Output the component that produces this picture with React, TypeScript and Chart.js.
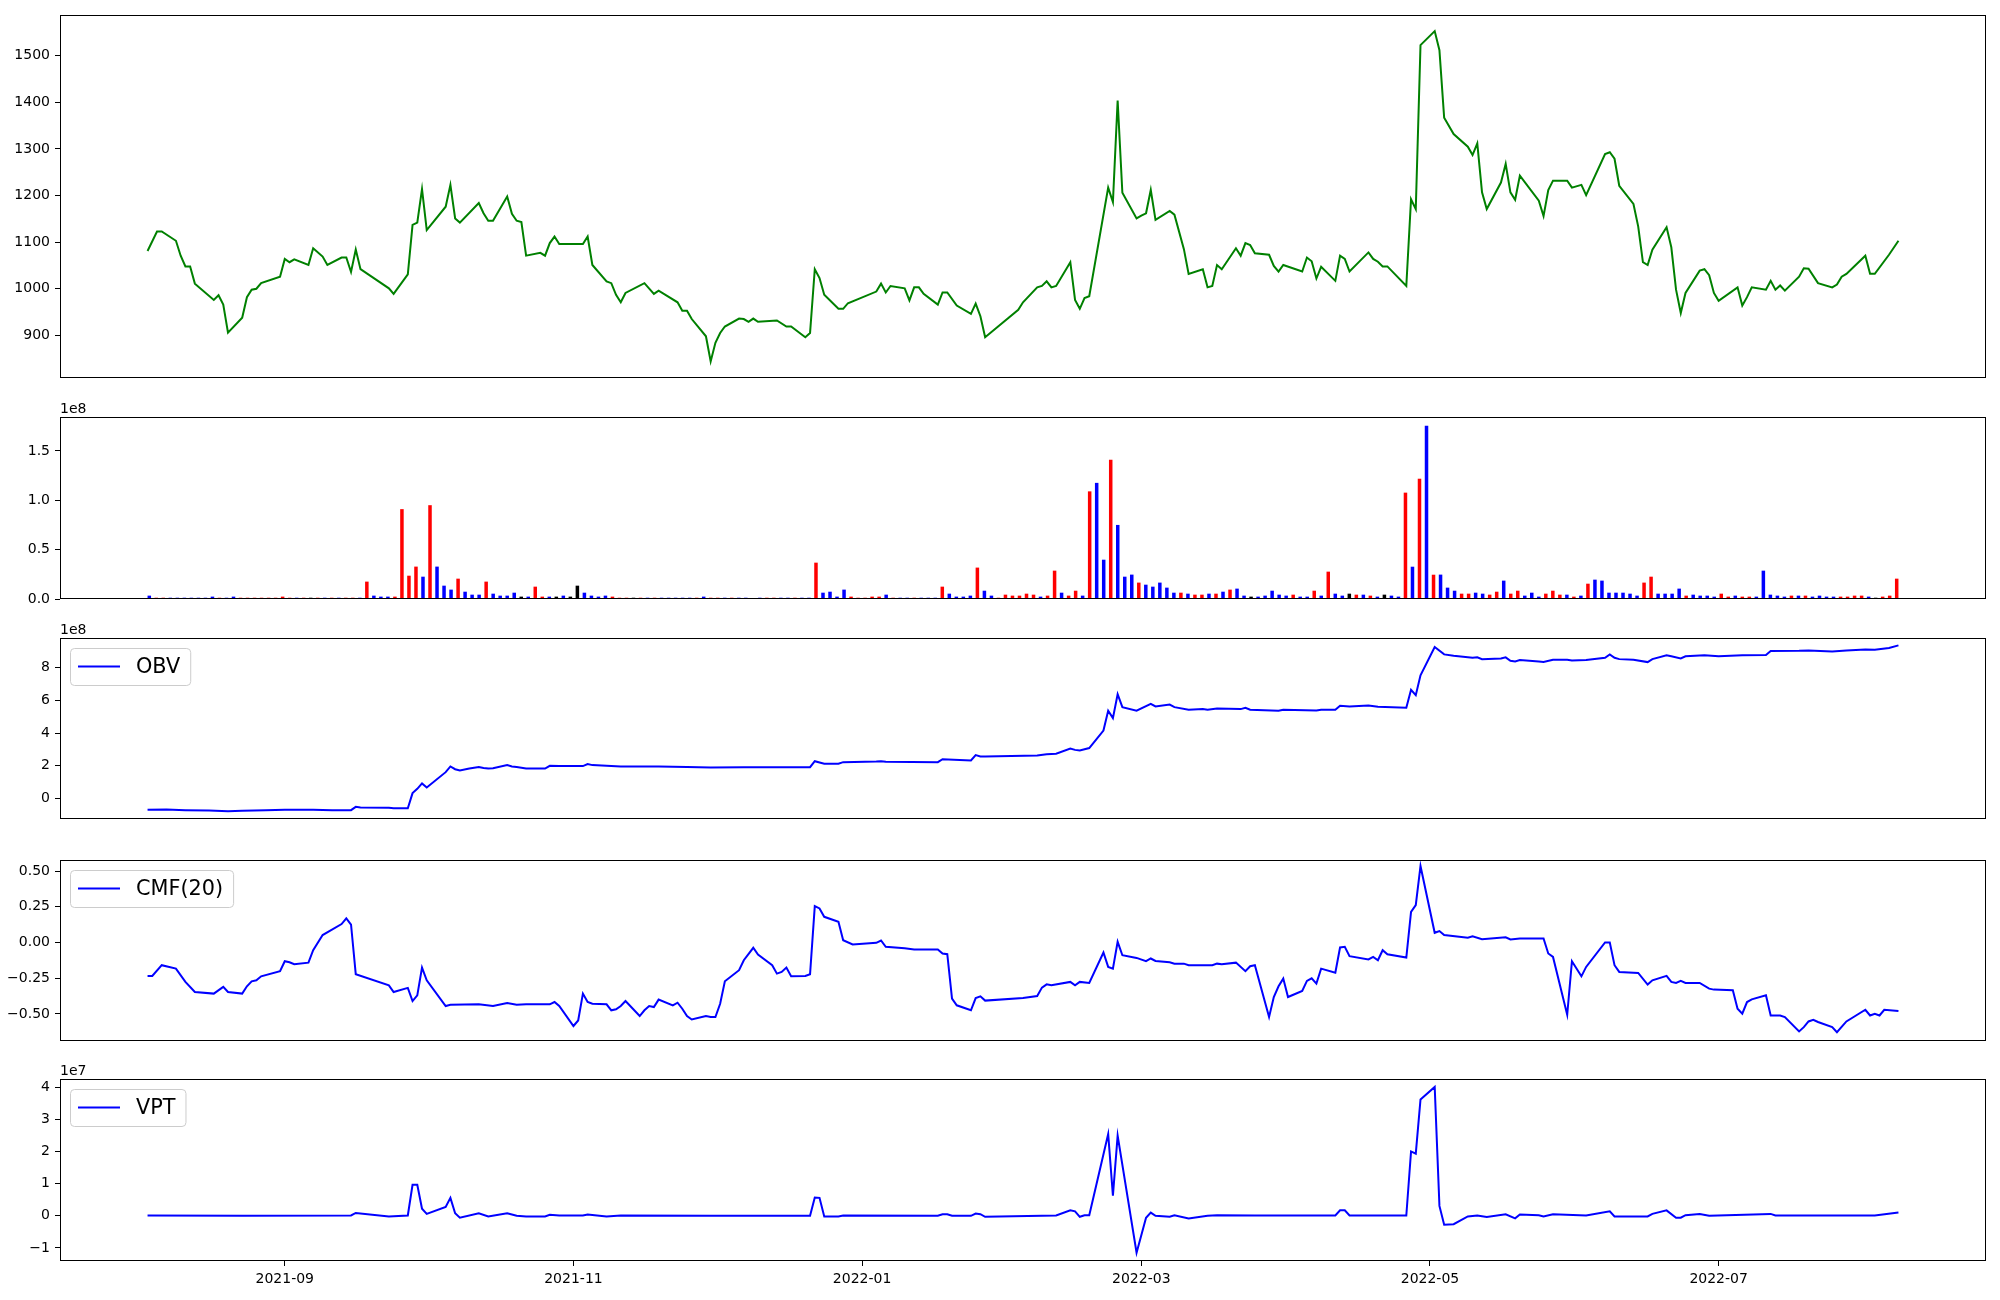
import React, { useEffect, useRef } from "react";
import { Chart, registerables } from "chart.js";
Chart.register(...registerables);

const FONT = "'DejaVu Sans', sans-serif";
const START = Date.UTC(2021, 7, 3); // first trading day 2021-08-03
const dayOf = (s: string) => {
  const [y, m, d] = s.split("-").map(Number);
  return Math.round((Date.UTC(y, m - 1, d || 1) - START) / 86400000);
};

// x tick labels (dates)
const xTickLabels = ["2021-09", "2021-11", "2022-01", "2022-03", "2022-05", "2022-07"];

// [days since 2021-08-03, close]
const price: [number, number][] = [
  [0, 1081], [2, 1123], [3, 1123], [6, 1103], [7, 1071], [8, 1048], [9, 1048], [10, 1011], [14, 976], [15, 986],
  [16, 966], [17, 906], [20, 938], [21, 982], [22, 998], [23, 1000], [24, 1012], [28, 1026], [29, 1064], [30, 1057],
  [31, 1063], [34, 1051], [35, 1087], [37, 1069], [38, 1051], [41, 1067], [42, 1067], [43, 1036], [44, 1084], [45, 1042],
  [51, 1001], [52, 989], [55, 1031], [56, 1137], [57, 1142], [58, 1214], [59, 1126], [63, 1176], [64, 1223], [65, 1151],
  [66, 1142], [70, 1184], [71, 1162], [72, 1146], [73, 1146], [76, 1198], [77, 1161], [78, 1146], [79, 1143], [80, 1071],
  [83, 1077], [84, 1071], [85, 1098], [86, 1112], [87, 1096], [92, 1096], [93, 1112], [94, 1051], [97, 1016], [98, 1012],
  [99, 987], [100, 971], [101, 991], [105, 1012], [107, 989], [108, 996], [112, 971], [113, 953], [114, 953], [115, 935],
  [118, 898], [119, 844], [120, 884], [121, 905], [122, 919], [125, 936], [126, 935], [127, 929], [128, 936], [129, 929],
  [133, 932], [135, 919], [136, 919], [139, 896], [140, 905], [141, 1042], [142, 1023], [143, 987], [146, 957], [147, 957],
  [148, 969], [154, 994], [155, 1011], [156, 992], [157, 1006], [160, 1001], [161, 975], [162, 1003], [163, 1003], [164, 989],
  [167, 966], [168, 992], [169, 992], [171, 964], [174, 946], [175, 968], [176, 941], [177, 896],
  [184, 955], [185, 971], [188, 1003], [189, 1006], [190, 1016], [191, 1003], [192, 1006], [195, 1057], [196, 976], [197, 957],
  [198, 980], [199, 984], [203, 1217], [204, 1186], [205, 1404], [206, 1206], [209, 1151], [210, 1157], [211, 1162], [212, 1212],
  [213, 1148], [216, 1167], [217, 1159], [219, 1085], [220, 1032], [223, 1042], [224, 1003], [225, 1006], [226, 1051], [227, 1042],
  [230, 1087], [231, 1071], [232, 1098], [233, 1094], [234, 1076], [237, 1073], [238, 1049], [239, 1037], [240, 1051], [244, 1037],
  [245, 1067], [246, 1059], [247, 1022], [248, 1047], [251, 1017], [252, 1071], [253, 1064], [254, 1037], [258, 1078], [259, 1064],
  [260, 1058], [261, 1048], [262, 1048], [266, 1006], [267, 1192], [268, 1171], [269, 1523], [272, 1553], [273, 1512], [274, 1367],
  [276, 1332], [279, 1305], [280, 1287], [281, 1312], [282, 1207], [283, 1171], [286, 1228], [287, 1268], [288, 1207], [289, 1191],
  [290, 1243], [294, 1189], [295, 1156], [296, 1212], [297, 1232], [300, 1232], [301, 1217], [303, 1223], [304, 1201], [308, 1289],
  [309, 1293], [310, 1279], [311, 1221], [314, 1182], [315, 1134], [316, 1057], [317, 1051], [318, 1084], [321, 1132], [322, 1089],
  [323, 998], [324, 948], [325, 991], [328, 1039], [329, 1042], [330, 1029], [331, 991], [332, 974], [336, 1003], [337, 964],
  [338, 982], [339, 1003], [342, 998], [343, 1017], [344, 998], [345, 1007], [346, 996], [349, 1026], [350, 1044], [351, 1043],
  [353, 1012], [356, 1003], [357, 1009], [358, 1026], [359, 1032], [363, 1071], [364, 1032], [365, 1032], [368, 1073], [370, 1103],
];

// volume per trading day (millions of shares), index order
const volumeM: number[] = [
  3.4, 1.3, 1.3, 1.3, 1.3, 1.3, 1.3, 1.3, 1.3, 2.4,
  1.3, 1.3, 2.4, 1.3, 1.3, 1.3, 1.3, 1.3, 1.3, 2.4,
  1.3, 1.3, 1.3, 1.3, 1.3, 1.3, 1.3, 1.3, 1.3, 1.3,
  1.3, 17.6, 3.4, 2.4, 2.4, 2.4, 91, 23.6, 32.8, 22.6,
  95, 32.8, 13.5, 9.5, 20.6, 7.4, 4.4, 4.4, 17.6, 5.4,
  3.4, 3.4, 6.4, 2.4, 2.4, 12.5, 2.4, 2.4, 2.4, 3.4,
  2.4, 13.5, 6.4, 3.4, 2.4, 3.4, 2.4, 1.3, 1.3, 1.3,
  1.3, 1.3, 1.3, 1.3, 1.3, 1.3, 1.3, 1.3, 1.3, 2.4,
  1.3, 1.3, 1.3, 1.3, 1.3, 1.3, 0, 1.3, 1.3, 1.3,
  1.3, 1.3, 1.3, 1.3, 1.3, 36.8, 6.4, 7.4, 2.4, 9.5,
  2.4, 1.3, 1.3, 2.4, 2.4, 4.4, 1.3, 1.3, 1.3, 1.3,
  1.3, 1.3, 1.3, 12.5, 5.4, 2.4, 2.4, 3.4, 31.8, 8.4,
  3.4, 1.3, 4.4, 3.4, 3.4, 5.4, 4.4, 2.4, 3.4, 28.7,
  6.4, 3.4, 8.4, 3.4, 109, 117.6, 39.8, 141, 75, 22.6,
  24.7, 16.6, 14.5, 12.5, 16.6, 11.5, 6.4, 6.4, 5.4, 4.4,
  4.4, 5.4, 5.4, 7.4, 9.5, 10.5, 3.4, 2.4, 2.4, 3.4,
  8.4, 4.4, 3.4, 4.4, 2.4, 2.4, 8.4, 3.4, 27.7, 5.4,
  3.4, 5.4, 4.4, 4.4, 3.4, 2.4, 4.4, 3.4, 2.4, 107.7,
  32.7, 121.8, 175.5, 24.6, 24.7, 11.5, 8.4, 5.4, 5.4, 6.4,
  5.4, 4.4, 7.4, 18.6, 5.4, 8.4, 3.4, 6.4, 2.4, 5.4,
  8.4, 4.4, 4.4, 2.4, 3.4, 15.5, 19.6, 18.6, 6.4, 6.4,
  6.4, 5.4, 3.4, 16.6, 22.6, 5.4, 5.4, 5.4, 10.5, 3.4,
  4.4, 3.4, 3.4, 2.4, 5.4, 2.4, 3.4, 2.4, 2.4, 2.4,
  28.7, 4.4, 3.4, 2.4, 3.4, 3.4, 3.4, 2.4, 3.4, 2.4,
  2.4, 2.4, 2.4, 3.4, 3.4, 2.4, 1.3, 2.4, 3.4, 20.6,
];
// bar colour per trading day: R up, B down, K unchanged
const volumeDir =
  "BRRBBBBBBB" + "RBBRRRRRRR" + "RBRKRBRBRR" + "BRBBBRRRRB" + "RBBBRBBBRB" +
  "BBBKBRRBKB" + "KKBBBBRRRK" + "RBRBBBBBRB" + "RRBRBBKBRR" + "BBRBBRBBBB" +
  "RRRRRBRBBR" + "BBBRBBBBRB" + "BRRRRRRBRR" + "BRRBRBBRBB" + "BRBBBBBRBR" +
  "RBRBRBBKBB" + "BBBRBBRBRB" + "BKRBRBKBBR" + "BRBRBBBRRB" + "BRRBRRBBBR" +
  "RRBRBRBBBB" + "BBBRRBBBBR" + "BBBBRRBRRB" + "BBBBRBRBBB" + "BRRRRBKRRR";

// OBV (1e8)
const obv: [number, number][] = [
  [0, -0.69], [4, -0.67], [8, -0.71], [13, -0.73], [17, -0.77], [20, -0.75], [25, -0.71], [29, -0.69], [35, -0.69], [39, -0.71],
  [43, -0.71], [44, -0.51], [45, -0.55], [51, -0.57], [52, -0.59], [55, -0.59], [56, 0.33], [57, 0.59], [58, 0.92], [59, 0.67],
  [63, 1.61], [64, 1.96], [65, 1.79], [66, 1.71], [68, 1.83], [70, 1.93], [71, 1.87], [72, 1.83], [73, 1.85], [76, 2.04],
  [77, 1.96], [78, 1.93], [80, 1.83], [84, 1.83], [85, 2.0], [87, 1.98], [92, 1.98], [93, 2.1], [94, 2.04], [100, 1.96],
  [108, 1.96], [114, 1.93], [119, 1.89], [126, 1.91], [140, 1.91], [141, 2.28], [143, 2.12], [146, 2.12], [147, 2.22], [154, 2.26],
  [155, 2.28], [156, 2.24], [167, 2.22], [168, 2.4], [174, 2.32], [175, 2.65], [176, 2.57], [177, 2.57],
  [188, 2.63], [190, 2.71], [192, 2.73], [195, 3.05], [196, 2.97], [197, 2.93], [199, 3.08], [202, 4.15], [203, 5.36], [204, 4.91],
  [205, 6.37], [206, 5.58], [209, 5.36], [212, 5.78], [213, 5.62], [216, 5.74], [217, 5.58], [220, 5.42], [223, 5.46], [224, 5.42],
  [226, 5.5], [231, 5.46], [232, 5.54], [233, 5.42], [239, 5.36], [240, 5.42], [247, 5.38], [248, 5.42], [251, 5.42], [252, 5.66],
  [254, 5.62], [258, 5.68], [260, 5.6], [266, 5.54], [267, 6.64], [268, 6.31], [269, 7.52], [272, 9.25], [274, 8.8], [276, 8.72],
  [280, 8.59], [281, 8.62], [282, 8.51], [286, 8.55], [287, 8.62], [288, 8.41], [289, 8.37], [290, 8.45], [294, 8.37], [295, 8.33],
  [297, 8.47], [300, 8.47], [301, 8.43], [304, 8.45], [308, 8.59], [309, 8.8], [310, 8.59], [311, 8.51], [314, 8.47], [317, 8.33],
  [318, 8.51], [321, 8.74], [322, 8.68], [324, 8.55], [325, 8.68], [329, 8.74], [332, 8.68], [337, 8.74], [342, 8.76], [343, 9.0],
  [349, 9.02], [351, 9.04], [356, 8.98], [359, 9.04], [363, 9.1], [365, 9.08], [368, 9.19], [370, 9.35],
];

// CMF(20)
const cmf: [number, number][] = [
  [0, -0.234], [1, -0.234], [3, -0.159], [6, -0.183], [8, -0.276], [10, -0.347], [14, -0.358], [16, -0.311], [17, -0.347], [20, -0.358],
  [21, -0.307], [22, -0.272], [23, -0.265], [24, -0.237], [28, -0.201], [29, -0.131], [30, -0.138], [31, -0.152], [34, -0.141], [35, -0.054],
  [37, 0.052], [41, 0.129], [42, 0.169], [43, 0.126], [44, -0.222], [51, -0.3], [52, -0.347], [55, -0.318], [56, -0.41], [57, -0.37],
  [58, -0.176], [59, -0.265], [63, -0.445], [64, -0.436], [70, -0.433], [73, -0.445], [76, -0.424], [78, -0.436], [80, -0.433], [84, -0.433],
  [85, -0.433], [86, -0.417], [87, -0.445], [90, -0.585], [91, -0.546], [92, -0.358], [93, -0.417], [94, -0.429], [97, -0.433], [98, -0.475],
  [99, -0.468], [100, -0.445], [101, -0.41], [104, -0.515], [105, -0.475], [106, -0.445], [107, -0.452], [108, -0.4], [111, -0.44], [112, -0.422],
  [113, -0.464], [114, -0.515], [115, -0.539], [118, -0.515], [119, -0.522], [120, -0.522], [121, -0.429], [122, -0.272], [125, -0.194], [126, -0.124],
  [128, -0.037], [129, -0.084], [132, -0.159], [133, -0.218], [134, -0.206], [135, -0.176], [136, -0.237], [139, -0.234], [140, -0.222], [141, 0.255],
  [142, 0.239], [143, 0.18], [146, 0.145], [147, 0.016], [149, -0.014], [154, -0.002], [155, 0.014], [156, -0.03], [160, -0.04], [162, -0.049],
  [167, -0.049], [168, -0.077], [169, -0.082], [170, -0.393], [171, -0.44], [174, -0.475], [175, -0.389], [176, -0.377], [177, -0.407],
  [185, -0.389], [188, -0.375], [189, -0.316], [190, -0.293], [191, -0.3], [195, -0.276], [196, -0.3], [197, -0.276], [199, -0.283], [202, -0.07],
  [203, -0.171], [204, -0.183], [205, 0.005], [206, -0.089], [209, -0.108], [211, -0.131], [212, -0.112], [213, -0.129], [216, -0.138], [217, -0.148],
  [219, -0.148], [220, -0.159], [223, -0.159], [225, -0.159], [226, -0.148], [227, -0.152], [230, -0.141], [232, -0.201], [233, -0.166], [234, -0.159],
  [237, -0.522], [238, -0.382], [239, -0.307], [240, -0.253], [241, -0.382], [244, -0.34], [245, -0.269], [246, -0.251], [247, -0.288], [248, -0.183],
  [251, -0.211], [252, -0.035], [253, -0.03], [254, -0.096], [258, -0.119], [259, -0.101], [260, -0.124], [261, -0.054], [262, -0.082], [266, -0.105],
  [267, 0.215], [268, 0.262], [269, 0.536], [272, 0.068], [273, 0.08], [274, 0.052], [279, 0.033], [280, 0.044], [282, 0.023], [287, 0.037],
  [288, 0.021], [290, 0.028], [295, 0.028], [296, -0.077], [297, -0.101], [300, -0.506], [301, -0.131], [303, -0.237], [304, -0.171], [308, 0.0],
  [309, 0.0], [310, -0.159], [311, -0.206], [315, -0.213], [317, -0.295], [318, -0.265], [321, -0.234], [322, -0.276], [323, -0.283], [324, -0.269],
  [325, -0.283], [328, -0.283], [330, -0.323], [331, -0.33], [335, -0.335], [336, -0.464], [337, -0.499], [338, -0.417], [339, -0.398], [342, -0.37],
  [343, -0.511], [345, -0.511], [346, -0.522], [349, -0.623], [350, -0.593], [351, -0.553], [352, -0.541], [353, -0.557], [356, -0.593], [357, -0.628],
  [359, -0.553], [363, -0.471], [364, -0.511], [365, -0.499], [366, -0.511], [367, -0.471], [370, -0.48],
];

// VPT (1e7)
const vpt: [number, number][] = [
  [0, 0.01], [20, 0], [43, 0.01], [44, 0.09], [51, -0.02], [55, 0.01], [56, 0.97], [57, 0.97], [58, 0.22], [59, 0.06],
  [63, 0.28], [64, 0.56], [65, 0.08], [66, -0.06], [70, 0.08], [72, -0.02], [76, 0.08], [78, 0], [80, -0.02], [84, -0.02],
  [85, 0.03], [87, 0.01], [92, 0.01], [93, 0.04], [97, -0.02], [100, 0.01], [119, 0], [140, 0], [141, 0.57], [142, 0.56],
  [143, -0.02], [146, -0.02], [147, 0.01], [167, 0], [168, 0.05], [169, 0.05], [170, 0], [174, 0], [175, 0.07], [176, 0.05],
  [177, -0.03], [192, 0.01], [195, 0.17], [196, 0.14], [197, -0.03], [198, 0.02], [199, 0.02], [203, 2.55], [204, 0.63], [205, 2.5],
  [209, -1.15], [211, -0.06], [212, 0.1], [213, 0], [216, -0.03], [217, 0.02], [220, -0.08], [224, 0], [226, 0.02], [234, 0.01],
  [251, 0.01], [252, 0.17], [253, 0.17], [254, 0.01], [266, 0.01], [267, 2.01], [268, 1.94], [269, 3.63], [272, 4.02], [273, 0.31],
  [274, -0.28], [276, -0.26], [279, -0.02], [281, 0.01], [283, -0.04], [287, 0.05], [289, -0.08], [290, 0.04], [294, 0.02], [295, -0.02],
  [297, 0.05], [304, 0.01], [309, 0.14], [310, -0.02], [317, -0.02], [318, 0.06], [321, 0.17], [323, -0.06], [324, -0.06], [325, 0.02],
  [328, 0.06], [330, 0], [343, 0.06], [344, 0.01], [356, 0.01], [365, 0.01], [370, 0.1],
];

const priceTicks = [900, 1000, 1100, 1200, 1300, 1400, 1500];
const volTicks = [0, 0.5, 1.0, 1.5];
const obvTicks = [0, 2, 4, 6, 8];
const cmfTicks = [-0.5, -0.25, 0, 0.25, 0.5];
const vptTicks = [-1, 0, 1, 2, 3, 4];

const MINUS = "\u2212";
const fmtN = (d: number) => (v: number) => (v < 0 ? MINUS : "") + Math.abs(v).toFixed(d);

const X_MIN = -18.5, X_MAX = 388.5;
const BAR_MIN = -12.725, BAR_MAX = 261.725;
const COLORS: Record<string, string> = { R: "#ff0000", B: "#0000ff", K: "#000000" };

const decor = {
  id: "decor",
  afterDraw(chart: any, _a: any, opts: any) {
    const { ctx, chartArea: a } = chart;
    ctx.save();
    ctx.strokeStyle = "#000";
    ctx.lineWidth = 1;
    ctx.strokeRect(a.left + 0.5, a.top + 0.5, a.right - a.left - 1, a.bottom - a.top - 1);
    if (opts && opts.offset) {
      ctx.fillStyle = "#000";
      ctx.font = `14px ${FONT}`;
      ctx.textAlign = "left";
      ctx.textBaseline = "alphabetic";
      ctx.fillText(opts.offset, a.left, a.top - 4);
    }
    if (opts && opts.legend) {
      ctx.font = `20.8px ${FONT}`;
      const tw = ctx.measureText(opts.legend).width;
      const bx = a.left + 10, by = a.top + 10, bh = 37;
      const lx0 = bx + 8, lx1 = lx0 + 42, tx = lx1 + 16;
      const bw = tx + tw + 10 - bx;
      ctx.beginPath();
      ctx.roundRect(bx + 0.5, by + 0.5, bw, bh, 4);
      ctx.fillStyle = "rgba(255,255,255,0.8)";
      ctx.fill();
      ctx.strokeStyle = "#cccccc";
      ctx.lineWidth = 1;
      ctx.stroke();
      const cy = by + bh / 2;
      ctx.strokeStyle = opts.color;
      ctx.lineWidth = 2;
      ctx.beginPath();
      ctx.moveTo(lx0, cy);
      ctx.lineTo(lx1, cy);
      ctx.stroke();
      ctx.fillStyle = "#000";
      ctx.textAlign = "left";
      ctx.textBaseline = "middle";
      ctx.fillText(opts.legend, tx, cy + 1);
    }
    ctx.restore();
  },
};

const tickFont = { family: FONT, size: 14 };

const yScale = (min: number, max: number, ticks: number[], fmt: (v: number) => string) => ({
  type: "linear",
  position: "left",
  min,
  max,
  afterBuildTicks: (s: any) => {
    s.ticks = ticks.map((v) => ({ value: v }));
  },
  afterFit: (s: any) => {
    s.width = 60;
  },
  ticks: { callback: (v: any) => fmt(Number(v)), padding: 5, color: "#000", font: tickFont, autoSkip: false },
  grid: { drawOnChartArea: false, drawTicks: true, tickLength: 5, color: "#000", lineWidth: 1 },
  border: { display: false },
});

const hiddenX = (min: number, max: number) => ({ type: "linear", min, max, display: false, offset: false });

const dateX = () => ({
  type: "linear",
  position: "bottom",
  min: X_MIN,
  max: X_MAX,
  offset: false,
  afterBuildTicks: (s: any) => {
    s.ticks = xTickLabels.map((l) => ({ value: dayOf(l + "-01") }));
  },
  afterFit: (s: any) => {
    s.height = 40;
  },
  ticks: {
    callback: (_v: any, i: number) => xTickLabels[i],
    maxRotation: 0,
    minRotation: 0,
    autoSkip: false,
    padding: 5,
    color: "#000",
    font: tickFont,
  },
  grid: { drawOnChartArea: false, drawTicks: true, tickLength: 5, color: "#000", lineWidth: 1 },
  border: { display: false },
});

const baseOptions = (pad: any, scales: any, decorOpts: any) => ({
  responsive: false,
  maintainAspectRatio: false,
  animation: false,
  devicePixelRatio: 1,
  events: [],
  layout: { padding: pad },
  plugins: { legend: { display: false }, tooltip: { enabled: false }, decor: decorOpts },
  scales,
});

const lineDs = (pts: [number, number][], color: string) => ({
  type: "line",
  data: pts.map(([x, y]) => ({ x, y })),
  borderColor: color,
  backgroundColor: color,
  borderWidth: 2,
  pointRadius: 0,
  tension: 0,
  fill: false,
});

const PANELS = [
  { top: 0, h: 394 },
  { top: 397, h: 218 },
  { top: 618, h: 217 },
  { top: 840, h: 217 },
  { top: 1059, h: 242 },
];

export default function App() {
  const refs = [useRef<HTMLCanvasElement>(null), useRef<HTMLCanvasElement>(null), useRef<HTMLCanvasElement>(null), useRef<HTMLCanvasElement>(null), useRef<HTMLCanvasElement>(null)];

  useEffect(() => {
    const charts: Chart[] = [];
    const c1: any = {
      type: "line",
      data: { datasets: [lineDs(price, "#008000")] },
      options: baseOptions({ top: 15, bottom: 16, left: 0, right: 14 },
        { x: hiddenX(X_MIN, X_MAX), y: yScale(808.5, 1587.5, priceTicks, (v) => String(v)) }, {}),
      plugins: [decor],
    };
    const c2: any = {
      type: "bar",
      data: {
        datasets: [{
          type: "bar",
          data: volumeM.map((v, i) => ({ x: i, y: v / 100 })),
          backgroundColor: volumeM.map((_, i) => COLORS[volumeDir[i]]),
          borderWidth: 0,
          barPercentage: 0.5,
          categoryPercentage: 1,
        }],
      },
      options: baseOptions({ top: 20, bottom: 16, left: 0, right: 14 },
        { x: hiddenX(BAR_MIN, BAR_MAX), y: yScale(0, 1.843, volTicks, fmtN(1)) }, { offset: "1e8" }),
      plugins: [decor],
    };
    const c3: any = {
      type: "line",
      data: { datasets: [lineDs(obv, "#0000ff")] },
      options: baseOptions({ top: 20, bottom: 16, left: 0, right: 14 },
        { x: hiddenX(X_MIN, X_MAX), y: yScale(-1.25, 9.8, obvTicks, fmtN(0)) },
        { offset: "1e8", legend: "OBV", color: "#0000ff" }),
      plugins: [decor],
    };
    const c4: any = {
      type: "line",
      data: { datasets: [lineDs(cmf, "#0000ff")] },
      options: baseOptions({ top: 20, bottom: 16, left: 0, right: 14 },
        { x: hiddenX(X_MIN, X_MAX), y: yScale(-0.69, 0.578, cmfTicks, fmtN(2)) },
        { legend: "CMF(20)", color: "#0000ff" }),
      plugins: [decor],
    };
    const c5: any = {
      type: "line",
      data: { datasets: [lineDs(vpt, "#0000ff")] },
      options: baseOptions({ top: 20, bottom: 0, left: 0, right: 14 },
        { x: dateX(), y: yScale(-1.41, 4.27, vptTicks, fmtN(0)) },
        { offset: "1e7", legend: "VPT", color: "#0000ff" }),
      plugins: [decor],
    };
    [c1, c2, c3, c4, c5].forEach((cfg, i) => {
      const el = refs[i].current;
      if (el) charts.push(new Chart(el, cfg));
    });
    return () => charts.forEach((c) => c.destroy());
  }, []);

  return (
    <div style={{ position: "absolute", left: 0, top: 0, width: 2000, height: 1300, background: "#ffffff", overflow: "hidden" }}>
      {PANELS.map((p, i) => (
        <canvas
          key={i}
          ref={refs[i]}
          width={2000}
          height={p.h}
          style={{ position: "absolute", left: 0, top: p.top, width: 2000, height: p.h }}
        />
      ))}
    </div>
  );
}
